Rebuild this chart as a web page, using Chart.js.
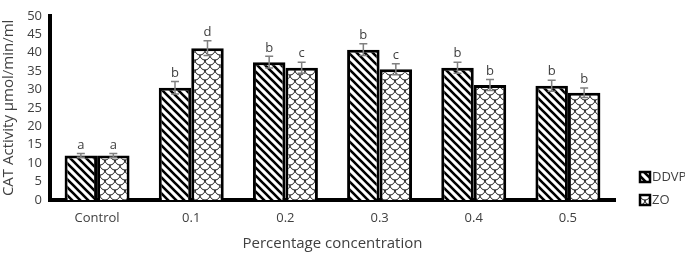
<!DOCTYPE html>
<html>
<head>
<meta charset="utf-8">
<script src="https://cdn.jsdelivr.net/npm/chart.js@4/dist/chart.umd.min.js"></script>
<style>
  body { margin: 0; background: #fff; }
  #wrap { width: 685px; height: 253px; }
</style>
</head>
<body>
<div id="wrap"><canvas id="catChart"></canvas></div>
<script>
// data
const categories = ['Control', '0.1', '0.2', '0.3', '0.4', '0.5'];
const ddvp = [12.1, 30.5, 37.4, 40.8, 35.9, 31.0];
const zo = [12.1, 41.2, 35.9, 35.5, 31.2, 29.1];
const ddvpErr = [0.5, 1.7, 1.6, 1.6, 1.5, 1.5];
const zoErr = [0.5, 2.0, 1.5, 1.5, 1.5, 1.3];
const ddvpLetters = ['a', 'b', 'b', 'b', 'b', 'b'];
const zoLetters = ['a', 'd', 'c', 'c', 'b', 'b'];

const textColor = '#404040';
const fontFamily = "'Open Sans', 'Noto Sans', sans-serif";

// hatch patterns
function stripePattern() {
    const c = document.createElement('canvas');
    c.width = 8; c.height = 8;
    const g = c.getContext('2d');
    g.fillStyle = '#fff';
    g.fillRect(0, 0, 8, 8);
    g.strokeStyle = '#000';
    g.lineWidth = 2.6;
    g.beginPath();
    g.moveTo(-2, -2); g.lineTo(10, 10);
    g.moveTo(-2, 6); g.lineTo(2, 10);
    g.moveTo(6, -2); g.lineTo(10, 2);
    g.stroke();
    return g.createPattern(c, 'repeat');
}

function scalePattern() {
    const c = document.createElement('canvas');
    c.width = 10; c.height = 10;
    const g = c.getContext('2d');
    g.fillStyle = '#fff';
    g.fillRect(0, 0, 10, 10);
    g.strokeStyle = '#000';
    g.lineWidth = 0.9;
    [[0, 0], [10, 0], [5, 5], [5, -5], [0, 10], [10, 10]].forEach(([cx, cy]) => {
        g.beginPath();
        g.arc(cx, cy, 5, 0, Math.PI);
        g.stroke();
    });
    return g.createPattern(c, 'repeat');
}

const ddvpFill = stripePattern();
const zoFill = scalePattern();

// error bars and letters
const errorBars = {
    id: 'errorBars',
    afterDatasetsDraw(chart) {
        const ctx = chart.ctx;
        const y = chart.scales.y;
        [[0, ddvpErr, ddvpLetters], [1, zoErr, zoLetters]].forEach(([i, errs, letters]) => {
            const meta = chart.getDatasetMeta(i);
            meta.data.forEach((bar, j) => {
                const v = chart.data.datasets[i].data[j];
                const top = y.getPixelForValue(v + errs[j]);
                const bot = y.getPixelForValue(v - errs[j]);
                ctx.save();
                ctx.strokeStyle = '#808080';
                ctx.lineWidth = 1.5;
                ctx.beginPath();
                ctx.moveTo(bar.x, top); ctx.lineTo(bar.x, bot);
                ctx.moveTo(bar.x - 4, top); ctx.lineTo(bar.x + 4, top);
                ctx.moveTo(bar.x - 4, bot); ctx.lineTo(bar.x + 4, bot);
                ctx.stroke();
                ctx.fillStyle = textColor;
                ctx.font = '13px ' + fontFamily;
                ctx.textAlign = 'center';
                ctx.textBaseline = 'bottom';
                ctx.fillText(letters[j], bar.x, top - 2);
                ctx.restore();
            });
        });
    }
};

// legend at the lower right
const sideLegend = {
    id: 'sideLegend',
    afterDraw(chart) {
        const ctx = chart.ctx;
        [[ddvpFill, 'DDVP', 177], [zoFill, 'ZO', 200]].forEach(([fill, label, yc]) => {
            ctx.save();
            ctx.fillStyle = fill;
            ctx.fillRect(640, yc - 5, 10, 10);
            ctx.strokeStyle = '#000';
            ctx.lineWidth = 2.5;
            ctx.strokeRect(640, yc - 5, 10, 10);
            ctx.fillStyle = textColor;
            ctx.font = '13px ' + fontFamily;
            ctx.textAlign = 'left';
            ctx.textBaseline = 'middle';
            ctx.fillText(label, 652, yc);
            ctx.restore();
        });
    }
};

new Chart(document.getElementById('catChart'), {
    type: 'bar',
    data: {
        labels: categories,
        datasets: [
            { label: 'DDVP', data: ddvp, backgroundColor: ddvpFill, borderColor: '#000', borderWidth: 3 },
            { label: 'ZO', data: zo, backgroundColor: zoFill, borderColor: '#000', borderWidth: 3 }
        ]
    },
    options: {
        responsive: true,
        maintainAspectRatio: false,
        animation: false,
        layout: { padding: { top: 6, right: 70, left: 0, bottom: 0 } },
        datasets: { bar: { categoryPercentage: 0.69, barPercentage: 1.0 } },
        plugins: { legend: { display: false }, tooltip: { enabled: false } },
        scales: {
            x: {
                grid: { display: false, drawTicks: false },
                border: { color: '#000', width: 4 },
                ticks: { color: textColor, font: { family: fontFamily, size: 13 }, padding: 10 },
                title: { display: true, text: 'Percentage concentration', color: textColor,
                         font: { family: fontFamily, size: 15 }, padding: { top: 4, bottom: 0 } },
                afterFit: s => { s.height = 53; }
            },
            y: {
                min: 0, max: 50,
                grid: { display: false, drawTicks: false },
                border: { color: '#000', width: 4 },
                ticks: { stepSize: 5, autoSkip: false, color: textColor, font: { family: fontFamily, size: 13 }, padding: 8 },
                title: { display: true, text: 'CAT Activity µmol/min/ml', color: textColor,
                         font: { family: fontFamily, size: 15 }, padding: 0 },
                afterFit: s => { s.width = 50; }
            }
        }
    },
    plugins: [errorBars, sideLegend]
});
</script>
</body>
</html>
